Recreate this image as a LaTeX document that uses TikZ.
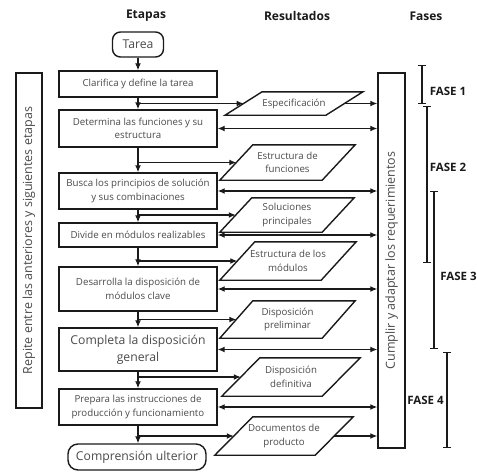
\documentclass[tikz,border=0pt]{standalone}
\usepackage{fontspec}
\setmainfont{Open Sans}
\usetikzlibrary{arrows.meta}

\definecolor{ink}{HTML}{1A1A1A}
\definecolor{txt}{HTML}{4A4A4A}

% outline of a result parallelogram around node #1, slanted by #2 on each side
\newcommand\resframe[2]{%
  \draw[frame] ([xshift=#2pt]#1.north west) -- ([xshift=#2pt]#1.north east)
    -- ([xshift=-#2pt]#1.south east) -- ([xshift=-#2pt]#1.south west) -- cycle;}

\begin{document}
\begin{tikzpicture}[
  x=1pt, y=-1pt,
  frame/.style={draw=ink, line width=1.4pt},
  smalltext/.style={text=txt, font=\fontsize{9.7}{13.5}\selectfont},
  bigtext/.style={text=txt, font=\fontsize{12.2}{17}\selectfont},
  stage/.style={frame, smalltext, minimum width=158pt, inner sep=0pt, align=center},
  term/.style={frame, bigtext, rounded corners=8pt, inner sep=0pt},
  result/.style={smalltext, inner sep=0pt, align=center},
  side/.style={frame, rotate=90, inner sep=0pt, text=txt, font=\fontsize{12.5}{14}\selectfont},
  head/.style={text=ink, font=\bfseries\fontsize{12}{14}\selectfont},
  phaselabel/.style={text=ink, font=\bfseries\fontsize{11.5}{14}\selectfont},
  flow/.style={draw=ink, line width=1.3pt, -{Latex[length=7pt,width=6pt]}},
  both/.style={draw=ink, line width=1.3pt, {Latex[length=7pt,width=6pt]}-{Latex[length=7pt,width=6pt]}},
  phase/.style={draw=ink, line width=1.4pt, {Bar[width=8pt]}-{Bar[width=8pt]}}
]
\useasboundingbox (0,0) rectangle (477,472);

% column headings
\node[head] (hE) at (146,16) {Etapas};
\node[head] (hR) at (297,16) {Resultados};
\node[head] (hF) at (426,16) {Fases};

% stages
\node[term, minimum width=51pt, minimum height=25pt] (task) at (138,44.5) {Tarea};
\node[stage, minimum height=26pt] (s1) at (138,84) {Clarifica y define la tarea};
\node[stage, minimum height=37pt] (s2) at (138,128.5) {Determina las funciones y su\\estructura};
\node[stage, minimum height=36pt] (s3) at (138,191) {Busca los principios de solución\\y sus combinaciones};
\node[stage, minimum height=24pt] (s4) at (138,235) {Divide en módulos realizables};
\node[stage, minimum height=44pt] (s5) at (138,289) {Desarrolla la disposición de\\módulos clave};
\node[stage, bigtext, minimum height=43pt] (s6) at (138,349.5) {Completa la disposición\\general};
\node[stage, minimum height=36pt] (s7) at (138,407) {Prepara las instrucciones de\\producción y funcionamiento};
\node[term, rounded corners=10pt, minimum width=138pt, minimum height=26pt] (done) at (137,457) {Comprensión ulterior};

% side bars
\node[side, minimum width=335pt, minimum height=26pt] (rep) at (29,240.5) {Repite entre las anteriores y siguientes etapas};
\node[side, minimum width=375pt, minimum height=27pt] (req) at (391.5,260.5) {Cumplir y adaptar los requerimientos};

% results
\node[result, minimum width=100.5pt, minimum height=23pt] (r1) at (294,103.5) {Especificación};
\resframe{r1}{18.5}
\node[result, minimum width=102pt, minimum height=35pt] (r2) at (287.5,162.5) {Estructura de\\funciones};
\resframe{r2}{16.5}
\node[result, minimum width=102pt, minimum height=34pt] (r3) at (287,215) {Soluciones\\principales};
\resframe{r3}{16}
\node[result, minimum width=101pt, minimum height=38pt] (r4) at (288,261) {Estructura de los\\módulos};
\resframe{r4}{17.5}
\node[result, minimum width=102pt, minimum height=37pt] (r5) at (287.5,319.5) {Disposición\\preliminar};
\resframe{r5}{16.5}
\node[result, minimum width=100pt, minimum height=38pt] (r6) at (291,377) {Disposición\\definitiva};
\resframe{r6}{19}
\node[result, minimum width=100pt, minimum height=38pt] (r7) at (284,436) {Documentos de\\producto};
\resframe{r7}{19}

% main sequence
\draw[flow] (task.south) -- (s1.north);
\draw[flow] (s1.south) -- (s2.north);
\draw[flow] (s2.south) -- (s3.north);
\draw[flow] (s3.south) -- (s4.north);
\draw[flow] (s4.south) -- (s5.north);
\draw[flow] (s5.south) -- (s6.north);
\draw[flow] (s6.south) -- (s7.north);
\draw[flow] (s7.south) -- (s7.south |- done.north);

% each stage yields a result
\draw[flow] (s1.south |- r1.west) -- (r1.west);
\draw[flow] (s2.south |- r2.west) -- (r2.west);
\draw[flow] (s3.south |- r3.west) -- (r3.west);
\draw[flow] (s4.south |- r4.west) -- (r4.west);
\draw[flow] (s5.south |- r5.west) -- (r5.west);
\draw[flow] (s6.south |- r6.west) -- (r6.west);
\draw[flow] (s7.south |- r7.west) -- (r7.west);

% requirements feed back and forth
\draw[flow] (r1.east) -- (r1.east -| req.north);
\draw[flow] (r7.east) -- (r7.east -| req.north);
\draw[both] (s2.east) -- (s2.east -| req.north);
\draw[both] (s3.east) -- (s3.east -| req.north);
\draw[both] (s4.east) -- (s4.east -| req.north);
\draw[both] (s5.east) -- (s5.east -| req.north);
\draw[both] (s6.east) -- (s6.east -| req.north);
\draw[both] (s7.east) -- (s7.east -| req.north);

% phases
\coordinate (f1a) at (422,65);  \coordinate (f1b) at (422,104);
\coordinate (f2a) at (427,106); \coordinate (f2b) at (427,263);
\coordinate (f3a) at (434,191); \coordinate (f3b) at (434,349);
\coordinate (f4a) at (447,352); \coordinate (f4b) at (447,448);
\draw[phase] (f1a) -- (f1b);
\draw[phase] (f2a) -- (f2b);
\draw[phase] (f3a) -- (f3b);
\draw[phase] (f4a) -- (f4b);
\node[phaselabel] (p1) at (448,91) {FASE 1};
\node[phaselabel] (p2) at (448,167) {FASE 2};
\node[phaselabel] (p3) at (458.5,276) {FASE 3};
\node[phaselabel] (p4) at (425.5,400) {FASE 4};
\end{tikzpicture}
\end{document}
